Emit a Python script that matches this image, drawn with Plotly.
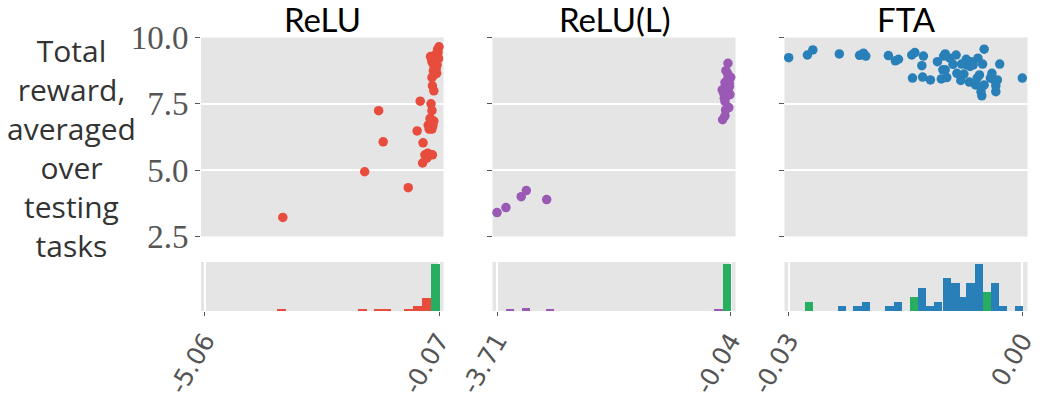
import plotly.graph_objects as go

# ---------------- data ----------------
panel_titles = ["ReLU", "ReLU(L)", "FTA"]

relu_x = [-3.40, -1.655, -0.726, -1.357, -1.26, -0.47, -0.536, -0.41, -0.42, -0.37, -0.31, -0.26,
          -0.21, -0.33, -0.30, -0.25, -0.20, -0.28, -0.22, -0.18, -0.26, -0.24, -0.24, -0.22,
          -0.25, -0.21, -0.18, -0.22, -0.12, -0.13, -0.11, -0.16, -0.25, -0.22, -0.09, -0.07,
          -0.12, -0.18, -0.15, -0.10, -0.14, -0.19, -0.08, -0.20, -0.17, -0.23]
relu_y = [3.22, 4.94, 4.34, 7.24, 6.07, 7.60, 6.48, 6.03, 5.27, 5.58, 5.64, 5.58,
          5.58, 5.45, 6.70, 6.62, 6.68, 6.55, 6.55, 6.85, 6.95, 6.80, 7.50, 7.24,
          6.92, 8.18, 7.99, 8.49, 8.65, 8.82, 8.97, 9.13, 9.28, 9.09, 9.43, 9.65,
          9.30, 9.25, 9.35, 9.55, 8.95, 8.75, 9.20, 9.02, 8.60, 9.20]

relul_x = [-3.71, -3.57, -3.33, -3.25, -2.93, -0.083, -0.115, -0.078, -0.04, -0.13, -0.063,
           -0.173, -0.12, -0.052, -0.141, -0.13, -0.07, -0.12, -0.13, -0.167, -0.09, -0.11,
           -0.08, -0.10, -0.15, -0.06, -0.09]
relul_y = [3.40, 3.59, 4.00, 4.23, 3.89, 9.03, 8.75, 8.53, 8.50, 8.30, 8.28,
           8.03, 8.05, 7.85, 7.71, 7.59, 7.36, 7.27, 7.05, 6.90, 8.40, 8.00,
           7.95, 7.80, 7.90, 8.15, 8.65]

fta_x = [-0.0300, -0.0276, -0.0269, -0.0235, -0.0209, -0.0204, -0.0201, -0.0172, -0.0163,
         -0.0159, -0.0142, -0.0138, -0.0127, -0.0129, -0.0141, -0.0128, -0.0118, -0.0109,
         -0.0104, -0.0097, -0.0101, -0.0099, -0.0093, -0.0099, -0.0089, -0.0085, -0.0084,
         -0.0079, -0.0078, -0.0075, -0.0072, -0.0071, -0.0068, -0.0066, -0.0063, -0.0060,
         -0.0057, -0.0055, -0.0058, -0.0051, -0.0049, -0.0052, -0.0053, -0.0052, -0.0049,
         -0.0039, -0.0041, -0.0036, -0.0032, -0.0034, -0.0034, -0.0029, 0.0000, -0.0102,
         -0.0067]
fta_y = [9.24, 9.34, 9.53, 9.38, 9.33, 9.41, 9.30, 9.32, 9.12,
         9.18, 9.34, 9.43, 9.30, 8.94, 8.47, 8.51, 8.40, 9.09,
         8.44, 8.49, 9.30, 9.38, 9.22, 8.78, 8.99, 9.34, 8.65,
         8.38, 9.00, 8.62, 9.18, 8.97, 8.32, 9.09, 8.97, 8.21,
         9.22, 8.59, 8.47, 9.00, 9.56, 8.15, 7.96, 7.80, 8.21,
         8.65, 8.47, 8.40, 8.40, 8.18, 7.96, 9.00, 8.47, 8.78,
         8.91]

# histogram bars (bin centres, counts)
relu_hist_x = [-3.429, -1.702, -1.37, -1.185, -0.721, -0.530, -0.338]
relu_hist_y = [1, 1, 1, 1, 1, 4, 10]
relu_green_x = [-0.146]
relu_green_y = [37]

relul_hist_x = [-3.514, -3.262, -2.886, -0.239]
relul_hist_y = [1, 2, 1, 1]
relul_green_x = [-0.106]
relul_green_y = [37]

fta_hist_x = [-0.02322, -0.02123, -0.02014, -0.01712, -0.01603, -0.01297, -0.01195, -0.01089,
              -0.00974, -0.00865, -0.00766, -0.00670, -0.00566, -0.00360, -0.00252, -0.00049]
fta_hist_y = [1, 1, 2, 1, 2, 5, 1, 2, 7, 6, 3, 6, 10, 6, 1, 1]
fta_green_x = [-0.02748, -0.01400, -0.00463]
fta_green_y = [2, 3, 4]

tick_vals = [[-5.06, -0.07], [-3.71, -0.04], [-0.03, 0.0]]
tick_text = [["-5.06", "-0.07"], ["-3.71", "-0.04"], ["-0.03", "0.00"]]

reward_ticks = [2.5, 5.0, 7.5, 10.0]
reward_tick_text = ["2.5", "5.0", "7.5", "10.0"]

# ---------------- styling ----------------
W, H = 1048, 398
colors = ["#E74C3C", "#9B59B6", "#2980B9"]
green = "#27AE60"
bg = "#E5E5E5"

col_px = [(201.0, 443.5), (492.5, 735.5), (784.5, 1027.5)]
x_ranges = [[-5.145, 0.026], [-3.781, 0.0354], [-0.03054, 0.000668]]
bar_widths = [0.192, 0.137, 0.00108]
hist_ranges = [[0, 38.6], [0, 38.6], [0, 10.43]]
scat_px = (37.5, 236.5)
hist_px = (262.0, 311.0)


def fx(p):
    return p / W


def fy(p):
    return 1 - p / H


scatters = [(relu_x, relu_y), (relul_x, relul_y), (fta_x, fta_y)]
hists = [(relu_hist_x, relu_hist_y, relu_green_x, relu_green_y),
         (relul_hist_x, relul_hist_y, relul_green_x, relul_green_y),
         (fta_hist_x, fta_hist_y, fta_green_x, fta_green_y)]

fig = go.Figure()
layout = {}
for i in range(3):
    sx_id, hx_id = i + 1, i + 4
    sxa = "x" if sx_id == 1 else f"x{sx_id}"
    sya = "y" if sx_id == 1 else f"y{sx_id}"
    hxa, hya = f"x{hx_id}", f"y{hx_id}"
    dom = [fx(col_px[i][0]), fx(col_px[i][1])]

    fig.add_trace(go.Scatter(x=scatters[i][0], y=scatters[i][1], mode="markers",
                             marker=dict(color=colors[i], size=9.5, line=dict(width=0)),
                             xaxis=sxa, yaxis=sya, cliponaxis=False, hoverinfo="x+y"))
    hx, hy, gx, gy = hists[i]
    fig.add_trace(go.Bar(x=hx, y=hy, width=bar_widths[i],
                         marker=dict(color=colors[i], line=dict(width=0)),
                         xaxis=hxa, yaxis=hya))
    fig.add_trace(go.Bar(x=gx, y=gy, width=bar_widths[i],
                         marker=dict(color=green, line=dict(width=0)),
                         xaxis=hxa, yaxis=hya))

    xk = "xaxis" if sx_id == 1 else f"xaxis{sx_id}"
    yk = "yaxis" if sx_id == 1 else f"yaxis{sx_id}"
    layout[xk] = dict(domain=dom, range=x_ranges[i], anchor=sya, showticklabels=False,
                      ticks="", showgrid=False, zeroline=False, showline=False,
                      automargin=False)
    layout[yk] = dict(domain=[fy(scat_px[1]), fy(scat_px[0])], range=[2.5, 10.0], anchor=sxa,
                      tickvals=reward_ticks, ticktext=reward_tick_text,
                      showticklabels=(i == 0), ticks="outside", ticklen=5, tickwidth=1,
                      tickcolor="#555555", showgrid=True, gridcolor="white", gridwidth=1.5,
                      zeroline=False, showline=False, automargin=False,
                      tickfont=dict(family="Liberation Serif", size=33, color="#555555"))
    layout[f"xaxis{hx_id}"] = dict(domain=dom, range=x_ranges[i], anchor=hya,
                                   tickvals=tick_vals[i], ticktext=tick_text[i],
                                   tickangle=-60, ticks="outside", ticklen=4, tickwidth=1,
                                   tickcolor="#555555", showgrid=True, gridcolor="white",
                                   gridwidth=1.5, zeroline=False, showline=False,
                                   automargin=False,
                                   tickfont=dict(family="DejaVu Sans", size=25, color="#555555"))
    layout[f"yaxis{hx_id}"] = dict(domain=[fy(hist_px[1]), fy(hist_px[0])], range=hist_ranges[i],
                                   anchor=hxa, showticklabels=False, ticks="", showgrid=False,
                                   zeroline=False, showline=False, automargin=False)

annotations = []
for i, t in enumerate(panel_titles):
    annotations.append(dict(text=t, x=fx((col_px[i][0] + col_px[i][1]) / 2), y=fy(19),
                            xref="paper", yref="paper", xanchor="center", yanchor="middle",
                            showarrow=False,
                            font=dict(family="Lato", size=33, color="black")))
annotations.append(dict(text="Total<br>reward,<br>averaged<br>over<br>testing<br>tasks",
                        x=fx(71), y=fy(148), xref="paper", yref="paper",
                        xanchor="center", yanchor="middle", align="center", showarrow=False,
                        font=dict(family="Open Sans", size=30, color="#333333")))

fig.update_layout(template="none", width=W, height=H, margin=dict(l=0, r=0, t=0, b=0, pad=0),
                  paper_bgcolor="white", plot_bgcolor=bg, showlegend=False,
                  barmode="overlay", bargap=0, annotations=annotations, **layout)

fig.write_html("out.html")
